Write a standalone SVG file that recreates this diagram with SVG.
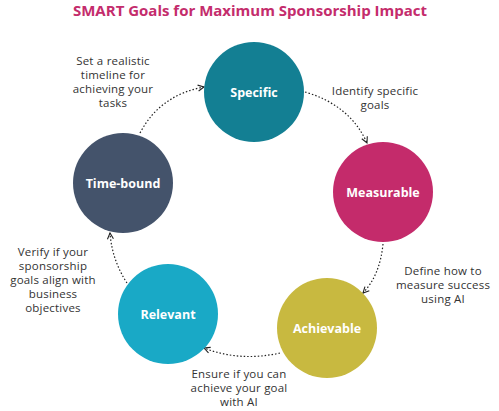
<svg xmlns="http://www.w3.org/2000/svg" width="499" height="411" viewBox="0 0 499 411">
<defs>
<marker id="arr" viewBox="0 0 8 8" refX="7" refY="4" markerWidth="8" markerHeight="8" markerUnits="userSpaceOnUse" orient="auto">
<path d="M1,1 L7,4 L1,7" fill="none" stroke="#222" stroke-width="1.1"/>
</marker>
<style>
.title{font-family:"Open Sans","Liberation Sans",sans-serif;font-weight:700;font-size:15px;fill:#c42c6c;text-anchor:middle}
.lbl{font-family:"Open Sans","Liberation Sans",sans-serif;font-weight:700;font-size:12.5px;fill:#fff;text-anchor:middle}
.desc{font-family:"Open Sans","Liberation Sans",sans-serif;font-size:11.5px;letter-spacing:0.2px;fill:#333;text-anchor:middle}
.con{fill:none;stroke:#222;stroke-width:1.2;stroke-dasharray:1.5 2;marker-end:url(#arr)}
</style>
</defs>
<rect width="499" height="411" fill="#fff"/>
<text class="title" x="250" y="16">SMART Goals for Maximum Sponsorship Impact</text>
<g id="connectors">
<path class="con" d="M140,133 Q160,95 204,87"/>
<path class="con" d="M305,92 Q350,105 367,143"/>
<path class="con" d="M383,244 Q380,275 363,293"/>
<path class="con" d="M280,353 Q240,362 204,348"/>
<path class="con" d="M127,283 Q112,260 110,233"/>
</g>
<g id="specific"><circle cx="254" cy="92" r="50" fill="#137f93"/><text class="lbl" x="254" y="97">Specific</text></g>
<g id="measurable"><circle cx="383" cy="192" r="50" fill="#c42b6b"/><text class="lbl" x="383" y="197">Measurable</text></g>
<g id="achievable"><circle cx="327" cy="328" r="50" fill="#c8b940"/><text class="lbl" x="327" y="333">Achievable</text></g>
<g id="relevant"><circle cx="168" cy="314" r="50" fill="#19a9c6"/><text class="lbl" x="168" y="319">Relevant</text></g>
<g id="timebound"><circle cx="123" cy="183" r="50" fill="#44536b"/><text class="lbl" x="123" y="188">Time-bound</text></g>
<g id="desc-specific"><text class="desc"><tspan x="375" y="95">Identify specific</tspan><tspan x="375" y="109">goals</tspan></text></g>
<g id="desc-measurable"><text class="desc"><tspan x="443" y="275">Define how to</tspan><tspan x="443" y="289">measure success</tspan><tspan x="443" y="303">using AI</tspan></text></g>
<g id="desc-achievable"><text class="desc"><tspan x="239" y="378">Ensure if you can</tspan><tspan x="239" y="392">achieve your goal</tspan><tspan x="239" y="406">with AI</tspan></text></g>
<g id="desc-relevant"><text class="desc"><tspan x="53" y="256">Verify if your</tspan><tspan x="53" y="270">sponsorship</tspan><tspan x="53" y="284">goals align with</tspan><tspan x="53" y="298">business</tspan><tspan x="53" y="312">objectives</tspan></text></g>
<g id="desc-timebound"><text class="desc"><tspan x="113" y="65">Set a realistic</tspan><tspan x="113" y="79">timeline for</tspan><tspan x="113" y="93">achieving your</tspan><tspan x="113" y="107">tasks</tspan></text></g>
</svg>
